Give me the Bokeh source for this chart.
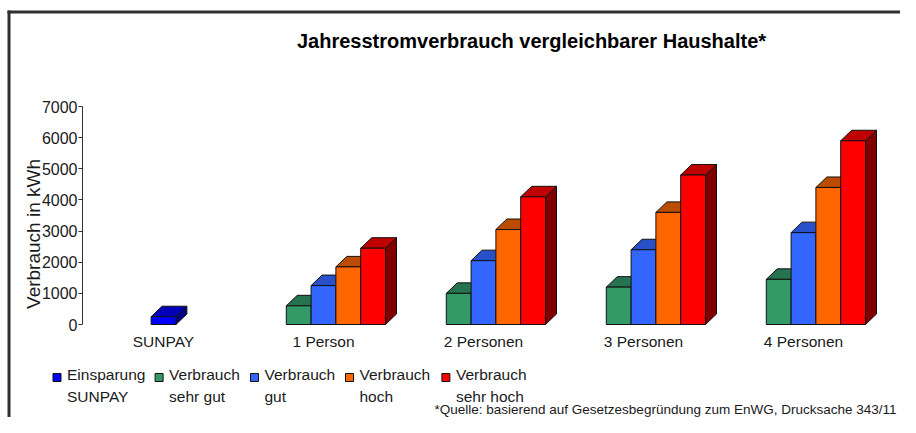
import math
from bokeh.plotting import figure
from bokeh.models import Range1d, LinearAxis, FixedTicker, ColumnDataSource
from bokeh.core.properties import value
from bokeh.embed import file_html
from bokeh.resources import INLINE

# ---------------- data ----------------
categories = ["SUNPAY", "1 Person", "2 Personen", "3 Personen", "4 Personen"]
series_names = ["Einsparung\nSUNPAY", "Verbrauch\nsehr gut", "Verbrauch\ngut",
                "Verbrauch\nhoch", "Verbrauch\nsehr hoch"]
einsparung = [250, 0, 0, 0, 0]
sehr_gut = [0, 600, 1000, 1200, 1450]
gut = [0, 1250, 2050, 2400, 2950]
hoch = [0, 1850, 3050, 3600, 4400]
sehr_hoch = [0, 2450, 4100, 4800, 5900]
y_ticks = [0, 1000, 2000, 3000, 4000, 5000, 6000, 7000]
title_text = "Jahresstromverbrauch vergleichbarer Haushalte*"
y_label = "Verbrauch in kWh"
footnote = "*Quelle: basierend auf Gesetzesbegründung zum EnWG, Drucksache 343/11"

series_values = [einsparung, sehr_gut, gut, hoch, sehr_hoch]

# ---------------- styles ----------------
front_colors = ["#0000FF", "#339966", "#3366FF", "#FF6600", "#FF0000"]
top_colors = ["#0000B8", "#267350", "#2850C8", "#BA4C00", "#BF0000"]
side_colors = ["#000080", "#1A4D33", "#1A3380", "#803300", "#800000"]
series_slot = [0, -1, 0, 1, 2]
FONT = value("Liberation Sans")
TXT = "#1a1a1a"

# ---------------- layout (picture pixels -> data) ----------------
FIG_W, FIG_H = 900, 417
CAT0_PX, CAT_PX = 163.0, 160.0
Y0_PX = 324.0
PPU = 218.0 / 7000.0


def X(px):
    return (px - CAT0_PX) / CAT_PX


def Y(py):
    return (Y0_PX - py) / PPU


BW = 24.8 / CAT_PX
DX = 11.0 / CAT_PX
DY = 10.5 / PPU

p = figure(width=FIG_W, height=FIG_H, output_backend="svg", toolbar_location=None,
           x_range=Range1d(X(0), X(FIG_W)),
           y_range=Range1d(Y(FIG_H), Y(0)),
           x_axis_type=None, y_axis_type=None, min_border=0,
           outline_line_color=None, background_fill_color="white",
           border_fill_color="white")

# frame border
p.line(x=[X(8.5), X(8.5)], y=[Y(10), Y(FIG_H + 5)], line_color="#303030", line_width=3)
p.line(x=[X(7), X(FIG_W + 5)], y=[Y(11.5), Y(11.5)], line_color="#303030", line_width=3)

# 3D bars
xs, ys, fills = [], [], []
for ci in range(len(categories)):
    for si, vals in enumerate(series_values):
        h = vals[ci]
        if not h:
            continue
        xc = ci + series_slot[si] * BW
        xl, xr = xc - BW / 2, xc + BW / 2
        xs.append([xr, xr + DX, xr + DX, xr]); ys.append([0, DY, h + DY, h]); fills.append(side_colors[si])
        xs.append([xl, xr, xr + DX, xl + DX]); ys.append([h, h, h + DY, h + DY]); fills.append(top_colors[si])
        xs.append([xl, xr, xr, xl]); ys.append([0, 0, h, h]); fills.append(front_colors[si])
src = ColumnDataSource(dict(xs=xs, ys=ys, fill=fills))
p.patches("xs", "ys", source=src, fill_color="fill", line_color="#111111", line_width=1)

# y axis
yax = LinearAxis(fixed_location=X(82), bounds=(0, 7000), ticker=FixedTicker(ticks=y_ticks))
yax.axis_line_color = "#333333"
yax.major_tick_line_color = "#333333"
yax.major_tick_out = 4
yax.major_tick_in = 0
yax.minor_tick_line_color = None
yax.major_label_standoff = 1
yax.major_label_text_font = "Liberation Sans"
yax.major_label_text_font_size = "16px"
yax.major_label_text_color = TXT
p.add_layout(yax, "left")

# x axis (category labels)
xax = LinearAxis(fixed_location=0, ticker=FixedTicker(ticks=list(range(len(categories)))),
                 major_label_overrides={i: c for i, c in enumerate(categories)})
xax.axis_line_color = None
xax.major_tick_line_color = None
xax.minor_tick_line_color = None
xax.major_tick_out = 0
xax.major_label_standoff = 8
xax.major_label_text_font = "Liberation Sans"
xax.major_label_text_font_size = "15.5px"
xax.major_label_text_color = TXT
p.add_layout(xax, "below")

# y label
p.text(x=[X(33)], y=[Y(233.5)], text=[y_label], angle=math.pi / 2, text_align="center",
       text_baseline="middle", text_font=FONT, text_font_size="19px", text_color=TXT)

# title
p.text(x=[X(531)], y=[Y(40.2)], text=[title_text], text_align="center", text_baseline="middle",
       text_font=FONT, text_font_size="20px", text_font_style="bold", text_color="#000000")

# legend
sq_left = [52.5, 154.6, 250.0, 345.0, 441.4]
p.rect(x=[X(l + 4) for l in sq_left], y=[Y(377)] * 5, width=8, height=8,
       width_units="screen", height_units="screen",
       fill_color=front_colors, line_color="#111111", line_width=1)
line1 = [n.split("\n")[0] for n in series_names]
line2 = [n.split("\n")[1] for n in series_names]
p.text(x=[X(l + 14) for l in sq_left], y=[Y(374.3)] * 5, text=line1, text_align="left",
       text_baseline="middle", text_font=FONT, text_font_size="15.5px", text_color=TXT)
p.text(x=[X(l + 14) for l in sq_left], y=[Y(395.7)] * 5, text=line2, text_align="left",
       text_baseline="middle", text_font=FONT, text_font_size="15.5px", text_color=TXT)

# footnote
p.text(x=[X(434)], y=[Y(408.5)], text=[footnote], text_align="left", text_baseline="middle",
       text_font=FONT, text_font_size="13.5px", text_color=TXT)

open("out.html", "w").write(file_html(p, INLINE))
